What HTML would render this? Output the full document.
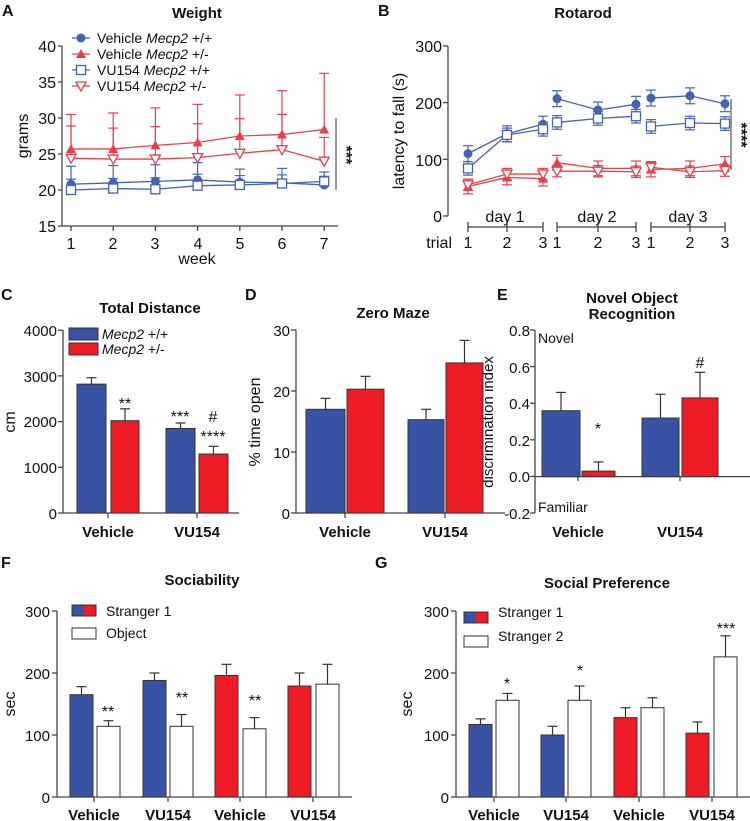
<!DOCTYPE html>
<html><head><meta charset="utf-8"><style>
html,body{margin:0;padding:0;background:#fff}
svg{display:block;font-family:"Liberation Sans",Arial,sans-serif}
.t{font-size:15px;font-weight:bold}
.L{font-size:16px;font-weight:bold}
.k{font-size:16px}
.ks{font-size:15px}
.lg{font-size:14px}
.c{font-size:15px;font-weight:bold}
</style></head><body>
<svg id="s" width="750" height="821" viewBox="0 0 750 821" xmlns="http://www.w3.org/2000/svg">
<g fill="#111">
<text x="2" y="16" class="L">A</text>
<text x="197" y="18" class="t" text-anchor="middle">Weight</text>
<text x="56" y="52" class="k" text-anchor="end">40</text>
<text x="56" y="88" class="k" text-anchor="end">35</text>
<text x="56" y="124" class="k" text-anchor="end">30</text>
<text x="56" y="160" class="k" text-anchor="end">25</text>
<text x="56" y="196" class="k" text-anchor="end">20</text>
<text x="56" y="232" class="k" text-anchor="end">15</text>
<text transform="translate(28,136) rotate(-90)" class="k" text-anchor="middle">grams</text>
<text x="71" y="249" class="k" text-anchor="middle">1</text>
<text x="113" y="249" class="k" text-anchor="middle">2</text>
<text x="155" y="249" class="k" text-anchor="middle">3</text>
<text x="198" y="249" class="k" text-anchor="middle">4</text>
<text x="240" y="249" class="k" text-anchor="middle">5</text>
<text x="282" y="249" class="k" text-anchor="middle">6</text>
<text x="324" y="249" class="k" text-anchor="middle">7</text>
<text x="197" y="264" class="k" text-anchor="middle">week</text>
<text x="97" y="43" class="lg">Vehicle <tspan font-style="italic">Mecp2</tspan> +/+</text>
<text x="97" y="59" class="lg">Vehicle <tspan font-style="italic">Mecp2</tspan> +/-</text>
<text x="97" y="75" class="lg">VU154 <tspan font-style="italic">Mecp2</tspan> +/+</text>
<text x="97" y="91" class="lg">VU154 <tspan font-style="italic">Mecp2</tspan> +/-</text>
<text transform="translate(341,155) rotate(90)" class="k" text-anchor="middle" font-weight="bold">***</text>
<text x="378" y="16" class="L">B</text>
<text x="583" y="18" class="t" text-anchor="middle">Rotarod</text>
<text x="442" y="52" class="k" text-anchor="end">300</text>
<text x="442" y="109" class="k" text-anchor="end">200</text>
<text x="442" y="166" class="k" text-anchor="end">100</text>
<text x="442" y="222" class="k" text-anchor="end">0</text>
<text transform="translate(404,131) rotate(-90)" class="k" text-anchor="middle">latency to fall (s)</text>
<text x="505" y="222" class="k" text-anchor="middle">day 1</text>
<text x="597" y="222" class="k" text-anchor="middle">day 2</text>
<text x="688" y="222" class="k" text-anchor="middle">day 3</text>
<text x="452" y="248" class="k" text-anchor="end">trial</text>
<text x="468" y="248" class="k" text-anchor="middle">1</text>
<text x="507" y="248" class="k" text-anchor="middle">2</text>
<text x="543" y="248" class="k" text-anchor="middle">3</text>
<text x="557" y="248" class="k" text-anchor="middle">1</text>
<text x="598" y="248" class="k" text-anchor="middle">2</text>
<text x="636" y="248" class="k" text-anchor="middle">3</text>
<text x="651" y="248" class="k" text-anchor="middle">1</text>
<text x="690" y="248" class="k" text-anchor="middle">2</text>
<text x="725" y="248" class="k" text-anchor="middle">3</text>
<text transform="translate(736,135) rotate(90)" class="k" text-anchor="middle" font-weight="bold">****</text>
<text x="1" y="300" class="L">C</text>
<text x="150" y="313" class="t" text-anchor="middle">Total Distance</text>
<text x="57" y="336" class="ks" text-anchor="end">4000</text>
<text x="57" y="382" class="ks" text-anchor="end">3000</text>
<text x="57" y="427" class="ks" text-anchor="end">2000</text>
<text x="57" y="473" class="ks" text-anchor="end">1000</text>
<text x="57" y="519" class="ks" text-anchor="end">0</text>
<text transform="translate(15,422) rotate(-90)" class="k" text-anchor="middle">cm</text>
<text x="108" y="537" class="c" text-anchor="middle">Vehicle</text>
<text x="197" y="537" class="c" text-anchor="middle">VU154</text>
<text x="102" y="339" class="lg" font-style="italic">Mecp2 <tspan font-style="normal">+/+</tspan></text>
<text x="102" y="354" class="lg" font-style="italic">Mecp2 <tspan font-style="normal">+/-</tspan></text>
<text x="125" y="409" class="k" text-anchor="middle">**</text>
<text x="180" y="422" class="k" text-anchor="middle">***</text>
<text x="213" y="422" class="k" text-anchor="middle">#</text>
<text x="213" y="442" class="k" text-anchor="middle">****</text>
<text x="245" y="300" class="L">D</text>
<text x="393" y="318" class="t" text-anchor="middle">Zero Maze</text>
<text x="290" y="336" class="ks" text-anchor="end">30</text>
<text x="290" y="397" class="ks" text-anchor="end">20</text>
<text x="290" y="458" class="ks" text-anchor="end">10</text>
<text x="290" y="519" class="ks" text-anchor="end">0</text>
<text transform="translate(260,422) rotate(-90)" class="k" text-anchor="middle">% time open</text>
<text x="345" y="537" class="c" text-anchor="middle">Vehicle</text>
<text x="445" y="537" class="c" text-anchor="middle">VU154</text>
<text x="497" y="300" class="L">E</text>
<text x="632" y="303" class="t" text-anchor="middle">Novel Object</text>
<text x="632" y="319" class="t" text-anchor="middle">Recognition</text>
<text x="530" y="336" class="ks" text-anchor="end">0.8</text>
<text x="530" y="373" class="ks" text-anchor="end">0.6</text>
<text x="530" y="409" class="ks" text-anchor="end">0.4</text>
<text x="530" y="446" class="ks" text-anchor="end">0.2</text>
<text x="530" y="482" class="ks" text-anchor="end">0.0</text>
<text x="530" y="519" class="ks" text-anchor="end">-0.2</text>
<text transform="translate(493,422) rotate(-90)" class="ks" text-anchor="middle">discrimination index</text>
<text x="538" y="343" class="lg">Novel</text>
<text x="538" y="512" class="lg">Familiar</text>
<text x="598" y="434" class="k" text-anchor="middle">*</text>
<text x="700" y="368" class="k" text-anchor="middle" font-size="18">#</text>
<text x="578" y="537" class="c" text-anchor="middle">Vehicle</text>
<text x="680" y="537" class="c" text-anchor="middle">VU154</text>
<text x="1" y="568" class="L">F</text>
<text x="202" y="585" class="t" text-anchor="middle">Sociability</text>
<text x="50" y="617" class="ks" text-anchor="end">300</text>
<text x="50" y="679" class="ks" text-anchor="end">200</text>
<text x="50" y="741" class="ks" text-anchor="end">100</text>
<text x="50" y="803" class="ks" text-anchor="end">0</text>
<text transform="translate(15,704) rotate(-90)" class="k" text-anchor="middle">sec</text>
<text x="106" y="616" class="lg">Stranger 1</text>
<text x="106" y="638" class="lg">Object</text>
<text x="108" y="717" class="k" text-anchor="middle">**</text>
<text x="182" y="703" class="k" text-anchor="middle">**</text>
<text x="255" y="706" class="k" text-anchor="middle">**</text>
<text x="94" y="820" class="c" text-anchor="middle">Vehicle</text>
<text x="168" y="820" class="c" text-anchor="middle">VU154</text>
<text x="240" y="820" class="c" text-anchor="middle">Vehicle</text>
<text x="313" y="820" class="c" text-anchor="middle">VU154</text>
<text x="375" y="568" class="L">G</text>
<text x="607" y="588" class="t" text-anchor="middle">Social Preference</text>
<text x="449" y="617" class="ks" text-anchor="end">300</text>
<text x="449" y="679" class="ks" text-anchor="end">200</text>
<text x="449" y="741" class="ks" text-anchor="end">100</text>
<text x="449" y="803" class="ks" text-anchor="end">0</text>
<text transform="translate(412,704) rotate(-90)" class="k" text-anchor="middle">sec</text>
<text x="498" y="617" class="lg">Stranger 1</text>
<text x="498" y="641" class="lg">Stranger 2</text>
<text x="507" y="689" class="k" text-anchor="middle">*</text>
<text x="580" y="676" class="k" text-anchor="middle">*</text>
<text x="726" y="634" class="k" text-anchor="middle">***</text>
<text x="494" y="820" class="c" text-anchor="middle">Vehicle</text>
<text x="566" y="820" class="c" text-anchor="middle">VU154</text>
<text x="639" y="820" class="c" text-anchor="middle">Vehicle</text>
<text x="712" y="820" class="c" text-anchor="middle">VU154</text>
</g>
<g id="g"></g>
</svg>
<script>
var B='#3953a4',R='#ed1c24',LB='#4463b0',LR='#e8404a',A='#444';
var o='';
function ln(x1,y1,x2,y2,c,w){o+='<line x1="'+x1+'" y1="'+y1+'" x2="'+x2+'" y2="'+y2+'" stroke="'+(c||A)+'" stroke-width="'+(w||1.3)+'"/>';}
function rc(x,y,w,h,f,s){o+='<rect x="'+x+'" y="'+y+'" width="'+w+'" height="'+h+'" fill="'+f+'" stroke="'+(s||'#333')+'" stroke-width="1"/>';}
function mk(t,x,y,c){
 if(t==0)o+='<circle cx="'+x+'" cy="'+y+'" r="4.5" fill="'+c+'"/>';
 if(t==1)o+='<polygon points="'+x+','+(y-5)+' '+(x-5)+','+(y+4)+' '+(x+5)+','+(y+4)+'" fill="'+c+'"/>';
 if(t==2)o+='<rect x="'+(x-4.5)+'" y="'+(y-4.5)+'" width="9" height="9" fill="#fff" stroke="'+c+'" stroke-width="1.3"/>';
 if(t==3)o+='<polygon points="'+x+','+(y+5)+' '+(x-5)+','+(y-4)+' '+(x+5)+','+(y-4)+'" fill="#fff" stroke="'+c+'" stroke-width="1.3"/>';
}
function err(x,y1,y2,c){ln(x,y1,x,y2,c,1.2);ln(x-5,y2,x+5,y2,c,1.2);}
ln(62,46,62,226);ln(62,226,338,226);
[40,35,30,25,20,15].forEach(function(v){var y=226-(v-15)*7.2;ln(58,y,62,y);});
for(var i=0;i<7;i++){var x=71+i*42.2;ln(x,226,x,231);}
ln(336,118,336,190,'#555',1.2);
var xa=[0,1,2,3,4,5,6].map(function(i){return 71+i*42.2});
var ay=function(g){return 226-(g-15)*7.2};
var SA=[
 [0,LB,[20.8,21.0,21.2,21.4,21.1,21.0,20.7],[23.3,23.4,23.5,23.8,22.9,23.0,21.9]],
 [2,LB,[20.0,20.2,20.1,20.6,20.7,20.9,21.2],[21.5,21.6,21.7,22.2,22.0,22.1,22.5]],
 [1,LR,[25.7,25.7,26.2,26.6,27.5,27.7,28.4],[30.5,30.7,31.4,31.9,33.2,33.8,36.2]],
 [3,LR,[24.4,24.3,24.3,24.5,25.1,25.6,24.0],[28.9,28.6,28.8,29.2,29.9,30.5,27.3]]];
SA.forEach(function(s){var p=s[2].map(function(v,i){return xa[i]+','+ay(v)}).join(' ');
 s[3].forEach(function(e,i){err(xa[i],ay(s[2][i]),ay(e),s[1]);});
 o+='<polyline points="'+p+'" fill="none" stroke="'+s[1]+'" stroke-width="1.3"/>';
 s[2].forEach(function(v,i){mk(s[0],xa[i],ay(v),s[1]);});});
[[0,LB,38],[1,LR,54],[2,LB,70],[3,LR,86]].forEach(function(l){ln(72,l[2],90,l[2],l[1],1.3);mk(l[0],81,l[2],l[1]);});
ln(448,46,448,216);[0,100,200,300].forEach(function(v){var y=216-v*0.567;ln(443,y,448,y);});
var tx=[[468,507,543],[557,598,636],[651,690,725]];
tx.forEach(function(d){ln(d[0],227,d[2],227);d.forEach(function(x){ln(x,222,x,232);});});
ln(731,99,731,170,'#555',1.2);
var by=function(v){return 216-v*0.567};
var SB=[
 [0,LB,[110,145,162,207,187,197,208,212,198],14],
 [2,LB,[84,143,153,165,172,176,158,164,163],12],
 [1,LR,[52,68,66,94,84,84,82,84,92],13],
 [3,LR,[55,74,74,79,79,78,86,78,80],10]];
SB.forEach(function(s){for(var d=0;d<3;d++){var p=[];for(var j=0;j<3;j++){var v=s[2][d*3+j],x=tx[d][j];p.push(x+','+by(v));
 ln(x,by(v-s[3]),x,by(v+s[3]),s[1],1.2);ln(x-5,by(v+s[3]),x+5,by(v+s[3]),s[1],1.2);ln(x-5,by(v-s[3]),x+5,by(v-s[3]),s[1],1.2);}
 o+='<polyline points="'+p.join(' ')+'" fill="none" stroke="'+s[1]+'" stroke-width="1.3"/>';}
 for(var d=0;d<3;d++)for(var j=0;j<3;j++)mk(s[0],tx[d][j],by(s[2][d*3+j]),s[1]);});
function bar(x,w,y0,yt,ye,f){err(x+w/2,yt,ye,'#333');rc(x,yt,w,y0-yt,f);}
ln(63,330,63,513);ln(63,513,239,513);[0,1,2,3,4].forEach(function(k){var y=513-k*45.7;ln(58,y,63,y);});ln(108,513,108,518);ln(197,513,197,518);
var cy=function(v){return 513-v*0.0457};
bar(77,29,513,cy(2820),cy(2960),B);bar(111,28,513,cy(2020),cy(2280),R);bar(166,29,513,cy(1850),cy(1970),B);bar(199,29,513,cy(1290),cy(1460),R);
rc(69,328,29,12,B);rc(69,343,29,12,R);
ln(296,330,296,513);ln(296,513,505,513);[0,1,2,3].forEach(function(k){var y=513-k*61;ln(291,y,296,y);});ln(345,513,345,518);ln(445,513,445,518);
var dy=function(v){return 513-v*6.1};
bar(306,39,513,dy(17),dy(18.8),B);bar(347,37,513,dy(20.3),dy(22.4),R);bar(408,36,513,dy(15.3),dy(17),B);bar(446,37,513,dy(24.6),dy(28.3),R);
ln(535,330,535,513);ln(535,476.6,750,476.6);[0,1,2,3,4,5].forEach(function(k){var y=513-k*36.6;ln(530,y,535,y);});ln(578,476.6,578,481);ln(680,476.6,680,481);
var ey=function(v){return 476.6-v*183};
bar(542,38,476.6,ey(0.36),ey(0.46),B);bar(582,33,476.6,ey(0.03),ey(0.08),R);bar(642,37,476.6,ey(0.32),ey(0.45),B);bar(682,36,476.6,ey(0.43),ey(0.57),R);
ln(57,611,57,797);ln(57,797,352,797);[0,1,2,3].forEach(function(k){var y=797-k*62;ln(52,y,57,y);});
[94,168,240,313].forEach(function(x){ln(x,797,x,802);});
var fy=function(v){return 797-v*0.62};
var F=[[70,B,165,178],[97,'#fff',114,123],[143,B,188,200],[170,'#fff',114,133],[215,R,196,214],[243,'#fff',110,128],[288,R,179,200],[316,'#fff',182,214]];
F.forEach(function(b){bar(b[0],23,797,fy(b[2]),fy(b[3]),b[1]);});
rc(72,605,12,11,B,B);rc(84,605,12,11,R,R);o+='<rect x="72" y="605" width="24" height="11" fill="none" stroke="#333"/>';rc(72,628,24,11,'#fff');
ln(456,611,456,797);ln(456,797,750,797);[0,1,2,3].forEach(function(k){var y=797-k*62;ln(451,y,456,y);});
[494,566,639,712].forEach(function(x){ln(x,797,x,802);});
var G=[[469,B,117,126],[496,'#fff',156,167],[541,B,100,114],[568,'#fff',156,179],[614,R,128,144],[641,'#fff',144,160],[686,R,103,121],[714,'#fff',226,260]];
G.forEach(function(b){bar(b[0],23,797,fy(b[2]),fy(b[3]),b[1]);});
rc(464,612,12,11,B,B);rc(476,612,12,11,R,R);o+='<rect x="464" y="612" width="24" height="11" fill="none" stroke="#333"/>';rc(464,636,24,11,'#fff');
document.getElementById('g').innerHTML=o;
</script>
</body></html>
